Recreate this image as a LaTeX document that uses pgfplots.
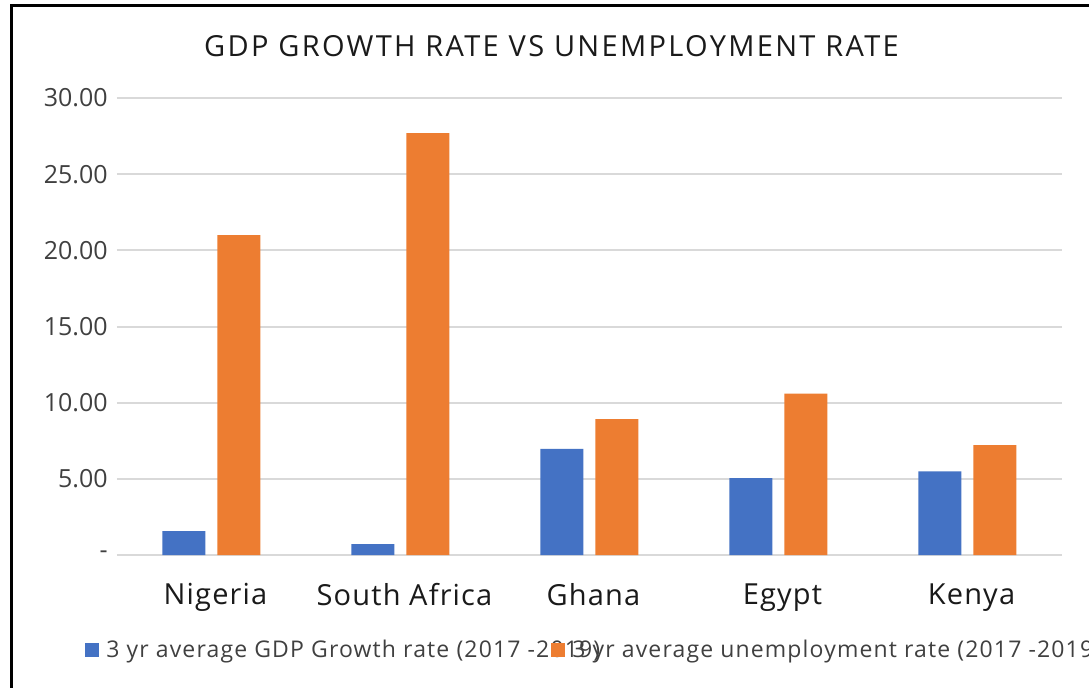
\documentclass[border=0pt]{standalone}
\usepackage{pgfplots}
\pgfplotsset{compat=1.18}
\usepackage{fontspec}
\setmainfont{Open Sans}
\newfontfamily\titlefont[LetterSpace=8]{Open Sans}
\newfontfamily\catfont[LetterSpace=4]{Open Sans}
\newfontfamily\legfont[LetterSpace=5]{Open Sans}
\definecolor{cblue}{HTML}{4472C4}
\definecolor{corange}{HTML}{ED7D31}
\definecolor{cgrid}{HTML}{D9D9D9}
\definecolor{ctick}{HTML}{404040}
\definecolor{ctext}{HTML}{1A1A1A}
\begin{document}
\begin{tikzpicture}
\useasboundingbox (0pt,0pt) rectangle (544.5pt,343.5pt);
\clip (0pt,0pt) rectangle (544.5pt,343.5pt);
\fill[white] (0pt,0pt) rectangle (544.5pt,343.5pt);
\draw[black, line width=1.2pt] (5.75pt,-2pt) -- (5.75pt,340.75pt) -- (550pt,340.75pt);
\node[font=\titlefont\fontsize{14.5}{16}\selectfont, text=ctext, inner sep=0pt] at (275.75pt,320.5pt) {GDP GROWTH RATE VS UNEMPLOYMENT RATE};
\begin{axis}[
  at={(58.5pt,66pt)}, anchor=south west,
  scale only axis, width=472.5pt, height=228.5pt,
  ybar=6pt, bar width=21.5pt,
  xmin=-0.5, xmax=4.5, ymin=0, ymax=30,
  axis line style={draw=none},
  ymajorgrids, grid style={cgrid, line width=1pt},
  major tick length=0pt,
  xtick={0,1,2,3,4},
  xticklabels={Nigeria,South Africa,Ghana,Egypt,Kenya},
  ytick={0,5,10,15,20,25,30},
  yticklabels={-,5.00,10.00,15.00,20.00,25.00,30.00},
  yticklabel style={font=\fontsize{12.5}{14}\selectfont, text=ctick, inner sep=0pt, anchor=east, xshift=-4.5pt},
  xticklabel style={font=\catfont\fontsize{14.5}{16}\selectfont, text=ctext, inner sep=0pt, anchor=north, yshift=-14pt, xshift=2pt},
  legend columns=2,
  legend style={at={(-0.0339,-0.208)}, anchor=west, draw=none, fill=none, inner sep=0pt,
    font=\legfont\fontsize{11.5}{13}\selectfont, text=ctick,
    nodes={inner sep=0pt},
    /tikz/every odd column/.style={column sep=3.5pt},
    /tikz/every even column/.style={column sep=0pt}},
]
\addplot[fill=cblue, draw=none, legend image code/.code={\fill[cblue] (0pt,-3.5pt) rectangle (7pt,3.5pt);}] coordinates {(0,1.57) (1,0.72) (2,6.96) (3,5.04) (4,5.49)};
\addlegendentry{\makebox[222.5pt][l]{3 yr average GDP Growth rate (2017 -2019)}}
\addplot[fill=corange, draw=none, legend image code/.code={\fill[corange] (0pt,-3.5pt) rectangle (7pt,3.5pt);}] coordinates {(0,21.0) (1,27.7) (2,8.92) (3,10.6) (4,7.22)};
\addlegendentry{3 yr average unemployment rate (2017 -2019)}
\end{axis}
\end{tikzpicture}
\end{document}
